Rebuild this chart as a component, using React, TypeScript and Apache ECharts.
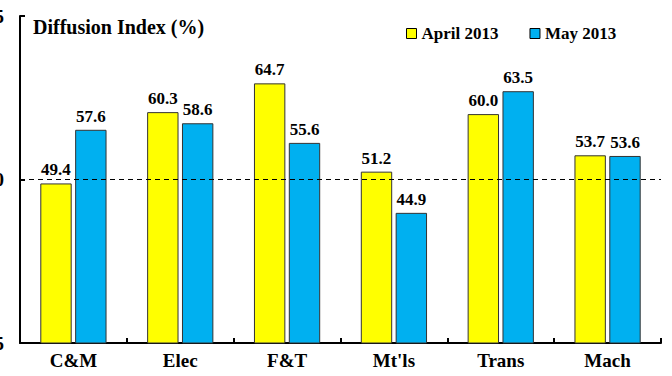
import React, { useEffect, useRef } from "react";
import * as echarts from "echarts";

const categories = ["C&M", "Elec", "F&T", "Mt'ls", "Trans", "Mach"];
const april2013 = [49.4, 60.3, 64.7, 51.2, 60.0, 53.7];
const may2013 = [57.6, 58.6, 55.6, 44.9, 63.5, 53.6];
const seriesNames = ["April 2013", "May 2013"];
const axisTitle = "Diffusion Index (%)";

const FONT = "Times New Roman, Liberation Serif, DejaVu Serif, serif";

export default function App() {
  const ref = useRef<HTMLDivElement>(null);
  useEffect(() => {
    if (!ref.current) return;
    const chart = echarts.init(ref.current, undefined, { renderer: "svg" });
    const labelStyle = {
      show: true,
      position: "top" as const,
      distance: 5,
      fontFamily: FONT,
      fontWeight: "bold" as const,
      fontSize: 17,
      color: "#000",
      formatter: (p: any) => Number(p.value).toFixed(1),
    };
    chart.setOption({
      animation: false,
      backgroundColor: "#fff",
      textStyle: { fontFamily: FONT },
      grid: {
        left: 20,
        right: 11,
        top: 16,
        bottom: 33,
        containLabel: false,
        outerBoundsMode: "none",
      },
      legend: {
        left: 401,
        top: 20,
        itemWidth: 10,
        itemHeight: 10,
        itemGap: 31,
        icon: "rect",
        textStyle: { fontFamily: FONT, fontWeight: "bold", fontSize: 17, color: "#000" },
        data: seriesNames.map((n) => ({ name: n, itemStyle: { borderColor: "#000", borderWidth: 1 } })),
      },
      graphic: [
        {
          type: "text",
          left: 33,
          top: 17,
          style: { text: axisTitle, fontFamily: FONT, fontWeight: "bold", fontSize: 20, fill: "#000" },
        },
      ],
      xAxis: {
        type: "category",
        data: categories,
        axisLine: { lineStyle: { color: "#000", width: 2 } },
        axisTick: { show: true, inside: true, length: 5, lineStyle: { color: "#000", width: 2 } },
        axisLabel: { margin: 8, fontFamily: FONT, fontWeight: "bold", fontSize: 19, color: "#000" },
      },
      yAxis: {
        type: "value",
        min: 25,
        max: 75,
        interval: 25,
        axisLine: { show: true, lineStyle: { color: "#000", width: 2 } },
        axisTick: { show: true, inside: true, length: 5, lineStyle: { color: "#000", width: 2 } },
        axisLabel: { margin: 16, fontFamily: FONT, fontWeight: "bold", fontSize: 19, color: "#000" },
        splitLine: { show: false },
      },
      series: [
        {
          name: seriesNames[0],
          type: "bar",
          data: april2013,
          barGap: "11%",
          barCategoryGap: "38%",
          itemStyle: { color: "#FFFF00", borderColor: "#333", borderWidth: 1 },
          label: labelStyle,
          markLine: {
            silent: true,
            symbol: "none",
            label: { show: false },
            lineStyle: { color: "#000", type: [5, 4], width: 1 },
            data: [{ yAxis: 50 }],
          },
        },
        {
          name: seriesNames[1],
          type: "bar",
          data: may2013,
          itemStyle: { color: "#00B0F0", borderColor: "#333", borderWidth: 1 },
          label: labelStyle,
        },
      ],
    });
    return () => chart.dispose();
  }, []);
  return (
    <div
      ref={ref}
      style={{ position: "absolute", left: 0, top: 0, width: 672, height: 376 }}
    />
  );
}
